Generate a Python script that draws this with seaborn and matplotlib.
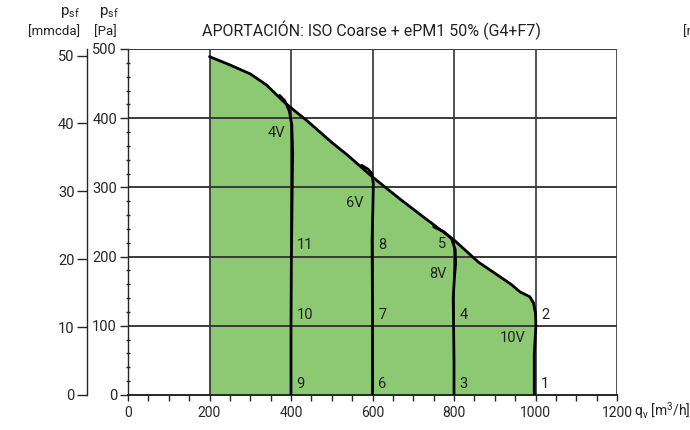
import numpy as np
import pandas as pd
import matplotlib
matplotlib.use("Agg")
import matplotlib.pyplot as plt
import seaborn as sns

# Curva de trabajo (borde superior de la zona verde), qv [m3/h] / psf [Pa]
top_q = [200, 250, 300, 340, 380, 400, 440, 500, 540, 600, 670, 730, 800, 860, 900, 940, 962, 986, 995]
top_p = [489, 477, 464, 448, 425, 415, 396, 365, 346, 315, 282, 255, 224, 192, 176, 160, 149, 142, 133]

# Curvas de velocidad
v4_q = [372, 385, 396, 402, 404, 403, 401, 400, 400]
v4_p = [433, 425, 410, 390, 350, 300, 200, 100, 0]
v6_q = [573, 590, 598, 602, 601, 599, 600, 600]
v6_p = [332, 326, 320, 306, 272, 224, 120, 0]
v8_q = [750, 775, 794, 803, 804, 801, 798, 799, 800, 800]
v8_p = [243, 236, 226, 210, 190, 170, 140, 100, 50, 0]
v10_q = [995, 1000, 1001, 999, 997, 997, 997]
v10_p = [133, 118, 100, 80, 60, 30, 0]

speed_names = ["4V", "6V", "8V", "10V"]
speed_lab_q = [385, 578, 782, 975]
speed_lab_p = [379, 277, 175, 82]

point_ids = ["1", "2", "3", "4", "5", "6", "7", "8", "9", "10", "11"]
point_q = [1000, 1000, 800, 800, 800, 600, 600, 600, 400, 400, 400]
point_p = [0, 100, 0, 100, 200, 0, 100, 200, 0, 100, 200]

title = "APORTACIÓN: ISO Coarse + ePM1 50% (G4+F7)"
green = "#8dc972"

sns.set_style("ticks")
plt.rcParams["font.family"] = ["Roboto", "DejaVu Sans"]
plt.rcParams["mathtext.fontset"] = "custom"
plt.rcParams["mathtext.rm"] = "Roboto"
plt.rcParams["mathtext.it"] = "Roboto"

fig = plt.figure(figsize=(6.9, 4.3), dpi=100)
ax = fig.add_axes([128 / 690, 1 - 395 / 430, 489 / 690, 346 / 430])

# zona verde
fill_q = top_q + v10_q + [200]
fill_p = top_p + v10_p + [0]
ax.fill(fill_q, fill_p, color=green, lw=0, zorder=1)

ax.set_xlim(0, 1200)
ax.set_ylim(0, 500)
ax.set_xticks(range(0, 1201, 200))
ax.set_xticks(range(0, 1201, 50), minor=True)
ax.set_yticks(range(0, 501, 100))
ax.set_yticks(range(0, 501, 20), minor=True)
for q in range(200, 1201, 200):
    ax.axvline(q, color="#222222", lw=1.1, zorder=2)
for p in range(100, 501, 100):
    ax.axhline(p, color="#3a3a3a", lw=1.4, zorder=2)

curves = [(top_q, top_p), (v4_q, v4_p), (v6_q, v6_p), (v8_q, v8_p), (v10_q, v10_p)]
for q, p in curves:
    df = pd.DataFrame({"q": q, "p": p})
    sns.lineplot(data=df, x="q", y="p", sort=False, estimator=None,
                 color="black", lw=2.0, ax=ax, zorder=3)

for name, q, p in zip(speed_names, speed_lab_q, speed_lab_p):
    ax.text(q, p, name, ha="right", va="center", fontsize=10.5, color="#222222", zorder=4)

for pid, q, p in zip(point_ids, point_q, point_p):
    if pid == "5":
        ax.annotate(pid, (q, p), xytext=(-6, 4), textcoords="offset points",
                    ha="right", va="bottom", fontsize=10.5, color="#222222", zorder=4)
    else:
        ax.annotate(pid, (q, p), xytext=(4, 3), textcoords="offset points",
                    ha="left", va="bottom", fontsize=10.5, color="#222222", zorder=4)

ax.set_xlabel("")
ax.set_ylabel("")
for s in ["top", "right"]:
    ax.spines[s].set_visible(False)
ax.spines["left"].set_linewidth(1.0)
ax.spines["bottom"].set_linewidth(1.4)
ax.tick_params(axis="x", which="both", direction="out", length=4, width=1, labelsize=10, pad=4)
ax.tick_params(axis="y", which="major", direction="out", length=6, width=1, labelsize=10.5, pad=2)
ax.tick_params(axis="y", which="minor", direction="inout", length=3, width=1)

# eje secundario en mmcda
sec = ax.secondary_yaxis(-41 / 489, functions=(lambda p: p / 9.81, lambda m: m * 9.81))
sec.set_yticks(range(0, 51, 10))
sec.tick_params(axis="y", direction="out", length=7, width=1, labelsize=10.5, pad=2)
sec.spines["left"].set_linewidth(1.0)
sec.set_ylabel("")

fig.text(372 / 690, 1 - 30 / 430, title, ha="center", va="center", fontsize=11.5, color="#222222")
fig.text(70 / 690, 1 - 13 / 430, r"p$_{\mathrm{sf}}$", ha="center", va="center", fontsize=11, color="#222222")
fig.text(109 / 690, 1 - 13 / 430, r"p$_{\mathrm{sf}}$", ha="center", va="center", fontsize=11, color="#222222")
fig.text(54 / 690, 1 - 32 / 430, "[mmcda]", ha="center", va="center", fontsize=9.5, color="#222222")
fig.text(105 / 690, 1 - 32 / 430, "[Pa]", ha="center", va="center", fontsize=9.5, color="#222222")
fig.text(634 / 690, 1 - 411 / 430, r"q$_{\mathrm{v}}$ [m$^{3}$/h]", ha="left", va="center", fontsize=10, color="#222222")
fig.text(683 / 690, 1 - 32 / 430, "[mmcda]", ha="left", va="center", fontsize=9.5, color="#222222")

fig.savefig("out.png", dpi=100)
